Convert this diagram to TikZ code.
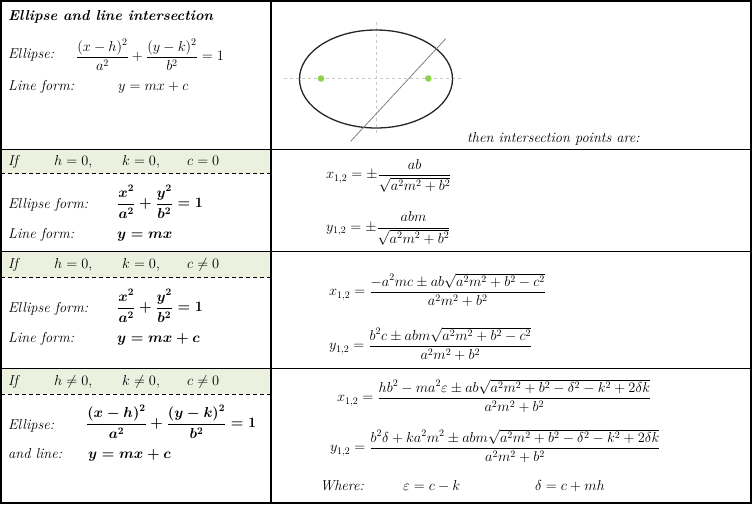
\documentclass[tikz,border=0pt]{standalone}
\usepackage{amsmath}
\definecolor{hdr}{HTML}{EBF1DE}
\definecolor{dotgreen}{HTML}{92D050}
\definecolor{axisgray}{HTML}{C8C8C8}
\newcommand{\fsz}{\fontsize{14.4}{17}\selectfont}
\begin{document}
\begin{tikzpicture}[x=1pt,y=-1pt,
  base/.style={inner sep=0pt, font=\fsz},
  txt/.style={base, anchor=base west},
  itx/.style={txt, font=\fsz\itshape},
  eqn/.style={base, anchor=west},
  bmath/.style={font=\fsz\boldmath},
  rule/.style={line width=1.2pt, black},
  hdash/.style={line width=1pt, black, dash pattern=on 4pt off 3pt},
  axis/.style={line width=1pt, axisgray, dash pattern=on 3pt off 3pt}]
\useasboundingbox (0,0) rectangle (753,505);
% header bands
\fill[hdr] (1,149.5) rectangle (271,174);
\fill[hdr] (1,251.5) rectangle (271,278);
\fill[hdr] (1,368.5) rectangle (271,394);
\draw[hdash] (1,174) -- (271,174);
\draw[hdash] (1,278) -- (271,278);
\draw[hdash] (1,394) -- (271,394);
% grid
\draw[rule] (1,149.5) -- (751,149.5);
\draw[rule] (1,251.5) -- (751,251.5);
\draw[rule] (1,368.5) -- (751,368.5);
\draw[rule] (271,1) -- (271,503);
\draw[rule] (1,1) rectangle (751,503);
% sketch
\draw[axis] (284,78.5) -- (461,78.5);
\draw[axis] (376,22) -- (376,136);
\draw[line width=1.3pt, black!85] (376,79) ellipse [x radius=76.5pt, y radius=49pt];
\draw[line width=0.8pt, gray] (350.7,141.3) -- (445.7,38.7);
\fill[dotgreen] (321,78.5) circle [radius=3.3pt];
\fill[dotgreen] (428.3,78.5) circle [radius=3.3pt];
% row 1
\node[txt, font=\fsz\bfseries\itshape] (title) at (8,21) {Ellipse and line intersection};
\node[itx] (el1) at (8,59) {Ellipse:};
\node[eqn] (eq1) at (76,55) {$\dfrac{(x-h)^2}{a^2}+\dfrac{(y-k)^2}{b^2}=1$};
\node[itx] (lf1) at (8,90.5) {Line form:};
\node[txt] (ln1) at (118,90.5) {$y=mx+c$};
\node[itx] (then) at (467,143) {then intersection points are:};
% row 2
\node[itx] (if2) at (8,165.7) {If};
\node[txt] (h2) at (54,165.7) {$h=0,$};
\node[txt] (k2) at (122,165.7) {$k=0,$};
\node[txt] (c2) at (187,165.7) {$c=0$};
\node[itx] (ef2) at (8,209) {Ellipse form:};
\node[eqn, bmath] (eq2) at (117,202) {$\dfrac{x^2}{a^2}+\dfrac{y^2}{b^2}=1$};
\node[itx] (lf2) at (8,238.3) {Line form:};
\node[txt, bmath] (ln2) at (117,238.3) {$y=mx$};
\node[eqn] (x2) at (326,175.7) {$x_{1,2}=\pm\dfrac{ab}{\sqrt{a^2m^2+b^2}}$};
\node[eqn] (y2) at (326,228.3) {$y_{1,2}=\pm\dfrac{abm}{\sqrt{a^2m^2+b^2}}$};
% row 3
\node[itx] (if3) at (8,269) {If};
\node[txt] (h3) at (54,269) {$h=0,$};
\node[txt] (k3) at (122,269) {$k=0,$};
\node[txt] (c3) at (187,269) {$c\neq0$};
\node[itx] (ef3) at (8,312.3) {Ellipse form:};
\node[eqn, bmath] (eq3) at (117,306) {$\dfrac{x^2}{a^2}+\dfrac{y^2}{b^2}=1$};
\node[itx] (lf3) at (8,342.3) {Line form:};
\node[txt, bmath] (ln3) at (117,342.3) {$y=mx+c$};
\node[eqn] (x3) at (329,290) {$x_{1,2}=\dfrac{-a^2mc\pm ab\sqrt{a^2m^2+b^2-c^2}}{a^2m^2+b^2}$};
\node[eqn] (y3) at (329,344) {$y_{1,2}=\dfrac{b^2c\pm abm\sqrt{a^2m^2+b^2-c^2}}{a^2m^2+b^2}$};
% row 4
\node[itx] (if4) at (8,385.7) {If};
\node[txt] (h4) at (54,385.7) {$h\neq0,$};
\node[txt] (k4) at (122,385.7) {$k\neq0,$};
\node[txt] (c4) at (187,385.7) {$c\neq0$};
\node[itx] (el4) at (8,429) {Ellipse:};
\node[eqn, bmath] (eq4) at (86,422) {$\dfrac{(x-h)^2}{a^2}+\dfrac{(y-k)^2}{b^2}=1$};
\node[itx] (al4) at (8,458.3) {and line:};
\node[txt, bmath] (ln4) at (88,458.3) {$y=mx+c$};
\node[eqn] (x4) at (337,396) {$x_{1,2}=\dfrac{hb^2-ma^2\varepsilon\pm ab\sqrt{a^2m^2+b^2-\delta^2-k^2+2\delta k}}{a^2m^2+b^2}$};
\node[eqn] (y4) at (330,446) {$y_{1,2}=\dfrac{b^2\delta+ka^2m^2\pm abm\sqrt{a^2m^2+b^2-\delta^2-k^2+2\delta k}}{a^2m^2+b^2}$};
\node[itx] (wh4) at (320,490) {Where:};
\node[txt] (eps4) at (403,490) {$\varepsilon=c-k$};
\node[txt] (del4) at (535,490) {$\delta=c+mh$};
\end{tikzpicture}
\end{document}
